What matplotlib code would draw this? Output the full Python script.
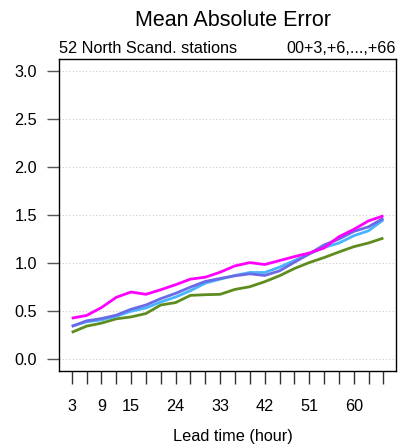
import matplotlib
matplotlib.use("Agg")
import matplotlib.pyplot as plt
import numpy as np

plt.rcParams['font.family'] = ['Liberation Sans', 'DejaVu Sans']

lead_hours = list(range(3, 67, 3))
tick_labels_x = [3, 9, 15, 24, 33, 42, 51, 60]

mae_magenta = [0.427, 0.455, 0.537, 0.644, 0.699, 0.675, 0.723, 0.775, 0.833, 0.853, 0.905,
               0.971, 1.005, 0.985, 1.026, 1.067, 1.105, 1.157, 1.274, 1.350, 1.439, 1.491]
mae_blue = [0.341, 0.399, 0.423, 0.458, 0.520, 0.564, 0.630, 0.685, 0.750, 0.809, 0.840,
            0.868, 0.888, 0.871, 0.919, 1.008, 1.095, 1.188, 1.250, 1.329, 1.377, 1.466]
mae_lightblue = [0.344, 0.389, 0.409, 0.447, 0.499, 0.533, 0.595, 0.647, 0.713, 0.791, 0.833,
                 0.871, 0.902, 0.902, 0.957, 1.026, 1.095, 1.163, 1.208, 1.284, 1.336, 1.450]
mae_green = [0.279, 0.344, 0.375, 0.420, 0.440, 0.475, 0.564, 0.589, 0.664, 0.671, 0.675,
             0.726, 0.754, 0.806, 0.868, 0.943, 1.005, 1.057, 1.115, 1.170, 1.209, 1.260]

series = [
    (mae_green, '#5e8c1e'),
    (mae_lightblue, '#48b4ff'),
    (mae_blue, '#6a6ae6'),
    (mae_magenta, '#ff00ff'),
]

fig = plt.figure(figsize=(4.06, 4.44), dpi=100)
ax = fig.add_axes([0.146, 0.165, 0.829, 0.7015])

for yv in np.arange(0, 3.01, 0.5):
    ax.axhline(yv, color='#cccccc', lw=0.8, ls=(0, (1, 2)), zorder=0)

for vals, col in series:
    ax.plot(lead_hours, vals, color=col, lw=2, solid_capstyle='butt')

ax.set_xlim(0.48, 68.52)
ax.set_ylim(-0.12, 3.12)
ax.set_xticks(lead_hours)
ax.set_xticklabels([str(h) if h in tick_labels_x else '' for h in lead_hours])
ax.set_yticks(np.arange(0, 3.01, 0.5))
ax.set_yticklabels([f"{v:.1f}" for v in np.arange(0, 3.01, 0.5)])
ax.tick_params(axis='x', direction='out', length=9, width=1, pad=11, labelsize=11.7, color='#333333')
ax.tick_params(axis='y', direction='out', length=9, width=1, pad=7, labelsize=11.7, color='#555555')
for s in ax.spines.values():
    s.set_linewidth(1)

fig.text(0.574, 1 - 436 / 444, 'Lead time (hour)', ha='center', va='center', fontsize=11.7)
fig.text(0.574, 1 - 20 / 444, 'Mean Absolute Error', ha='center', va='center', fontsize=15.5)
ax.text(0.0, 1.012, '52 North Scand. stations', transform=ax.transAxes, ha='left', va='bottom', fontsize=11.7)
ax.text(1.0, 1.012, '00+3,+6,...,+66', transform=ax.transAxes, ha='right', va='bottom', fontsize=11.7)

fig.savefig('out.png', dpi=100)
